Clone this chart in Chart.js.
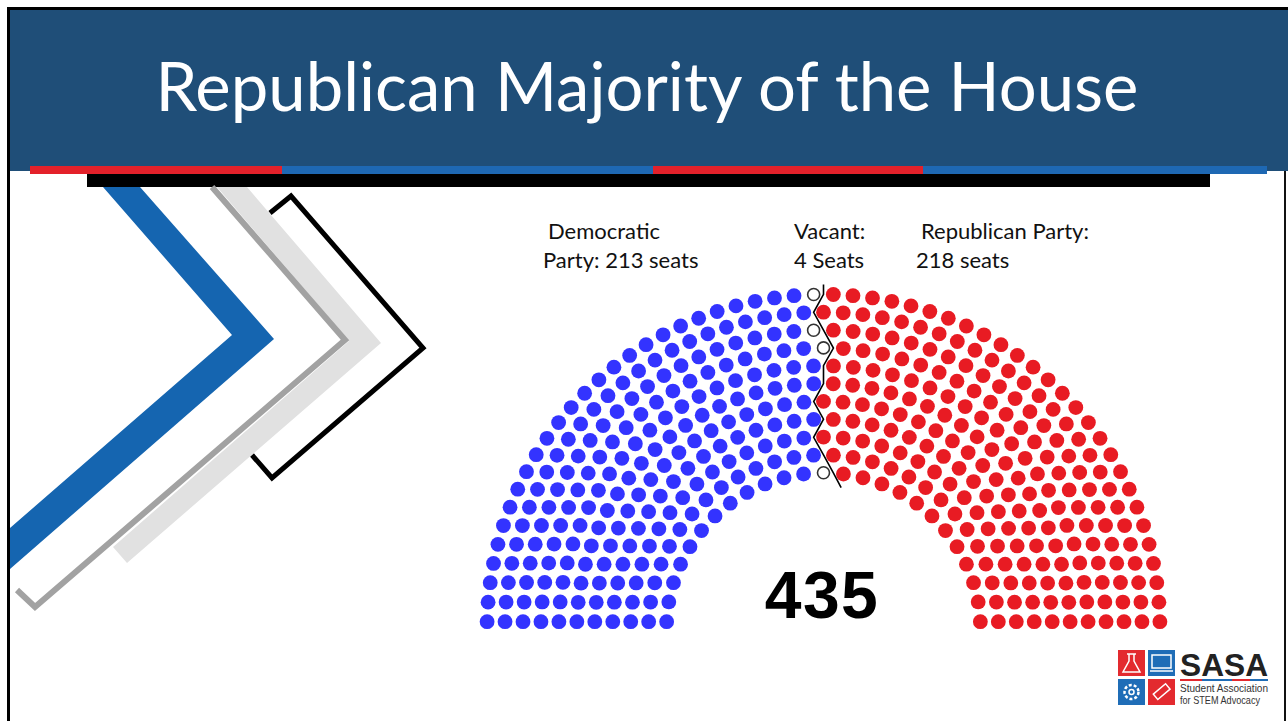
<!DOCTYPE html>
<html>
<head>
<meta charset="utf-8">
<script src="https://cdn.jsdelivr.net/npm/chart.js@4.4.1/dist/chart.umd.min.js"></script>
<style>
  body { margin: 0; width: 1288px; height: 721px; overflow: hidden; background: #fff; position: relative; font-family: Lato, "Open Sans", sans-serif; }
  .abs { position: absolute; }
  .lbl { position: absolute; font-size: 22px; line-height: 22px; color: #111; white-space: nowrap; }
  #title { position: absolute; left: 10px; width: 1274px; top: 52px; text-align: center; color: #fff; font-size: 67px; line-height: 67px; white-space: nowrap; }
  #total { position: absolute; left: 722px; width: 200px; top: 562px; text-align: center; font-family: "Liberation Sans", Arial, sans-serif; font-weight: bold; font-size: 66px; line-height: 66px; letter-spacing: 1.5px; color: #000; }
  #chartBox { position: absolute; left: 440px; top: 260px; width: 800px; height: 400px; }
</style>
</head>
<body>
<!-- slide frame and banner -->
<div class="abs" style="left:7px;top:7px;width:1281px;height:3px;background:#000"></div>
<div class="abs" style="left:7px;top:7px;width:3px;height:714px;background:#000"></div>
<div class="abs" style="left:1284px;top:170px;width:2px;height:551px;background:#111"></div>
<div class="abs" style="left:10px;top:10px;width:1278px;height:161px;background:#1f4e78"></div>
<div class="abs" style="left:30px;top:166px;width:252px;height:8px;background:#e3212a"></div>
<div class="abs" style="left:282px;top:166px;width:371px;height:8px;background:#1e68b3"></div>
<div class="abs" style="left:653px;top:166px;width:270px;height:8px;background:#e3212a"></div>
<div class="abs" style="left:923px;top:166px;width:344px;height:8px;background:#1e68b3"></div>
<div class="abs" style="left:87px;top:174px;width:1123px;height:13px;background:#000"></div>
<div id="title">Republican Majority of the House</div>

<!-- chevrons and logo -->
<svg class="abs" style="left:0;top:0" width="1288" height="721">
  <polyline points="270,213 291,196 423,348 272,478 252,455" fill="none" stroke="#000" stroke-width="5"/>
  <polygon points="217,187 247,187 381,343 127,563 113,547 349,341" fill="#e1e1e1"/>
  <polyline points="212,187 345,340 35,607 17,590" fill="none" stroke="#a2a2a2" stroke-width="6"/>
  <polygon points="103,187 140,187 274,339 10,569 10,528 232,335" fill="#1565b0"/>

  <rect x="1118" y="650" width="27" height="26" fill="#e32a2f"/>
  <rect x="1148" y="650" width="27" height="26" fill="#1f6db7"/>
  <rect x="1118" y="679" width="27" height="26" fill="#1f6db7"/>
  <rect x="1148" y="679" width="27" height="26" fill="#e32a2f"/>
  <path d="M1127,654 h9 M1129,654 v7 l-6,11 h17 l-6,-11 v-7" fill="none" stroke="#fff" stroke-width="1.5"/>
  <rect x="1152" y="655" width="19" height="13" fill="none" stroke="#fff" stroke-width="1.5"/>
  <path d="M1150,671 h23" stroke="#fff" stroke-width="1.5"/>
  <circle cx="1131.5" cy="692" r="7" fill="none" stroke="#fff" stroke-width="2.5" stroke-dasharray="3 2"/>
  <circle cx="1131.5" cy="692" r="2.5" fill="none" stroke="#fff" stroke-width="1.5"/>
  <rect x="1154" y="688" width="16" height="7" fill="none" stroke="#fff" stroke-width="1.5" transform="rotate(-40 1162 692)"/>
  <text x="1180" y="676" font-family="Liberation Sans, Arial" font-weight="bold" font-size="32" fill="#222" textLength="88" lengthAdjust="spacingAndGlyphs">SASA</text>
  <rect x="1180" y="679" width="22" height="2" fill="#e32a2f"/>
  <rect x="1202" y="679" width="30" height="2" fill="#1f6db7"/>
  <rect x="1232" y="679" width="18" height="2" fill="#e32a2f"/>
  <rect x="1250" y="679" width="18" height="2" fill="#1f6db7"/>
  <text x="1180" y="692" font-family="Liberation Sans, Arial" font-size="10.5" fill="#333" textLength="88" lengthAdjust="spacingAndGlyphs">Student Association</text>
  <text x="1180" y="704" font-family="Liberation Sans, Arial" font-size="10.5" fill="#333" textLength="80" lengthAdjust="spacingAndGlyphs">for STEM Advocacy</text>
</svg>

<div class="lbl" style="left:548px;top:220px">Democratic</div>
<div class="lbl" id="demSeats" style="left:543px;top:249px"></div>
<div class="lbl" style="left:794px;top:220px">Vacant:</div>
<div class="lbl" id="vacSeats" style="left:794px;top:249px"></div>
<div class="lbl" style="left:921px;top:220px">Republican Party:</div>
<div class="lbl" id="repSeats" style="left:916px;top:249px"></div>
<div id="total"></div>

<div id="chartBox"><canvas id="myChart" width="800" height="400"></canvas></div>

<script>
// seats per group, left to right
var partyNames = ["Democratic", "Vacant", "Republican"];
var partySeats = [213, 4, 218];
var partyColors = ["#3333ff", "#ffffff", "#e81b23"];
var partyBorders = ["#3333ff", "#333333", "#e81b23"];

// cumulative row capacities used by the parliament diagram arrangement
var rowTotals = [3, 15, 33, 61, 95, 138, 189, 247, 313, 388, 469, 559, 657, 762, 876, 997];

var totalSeats = partySeats.reduce(function (a, b) { return a + b; }, 0);

document.getElementById("demSeats").textContent = "Party: " + partySeats[0] + " seats";
document.getElementById("vacSeats").textContent = partySeats[1] + " Seats";
document.getElementById("repSeats").textContent = partySeats[2] + " seats";
document.getElementById("total").textContent = totalSeats;

// arrange seats in concentric rows, then hand them out by angle
var rows = 0;
for (var i = 0; i < rowTotals.length; i++) {
  if (rowTotals[i] >= totalSeats) { rows = i + 1; break; }
}
var dotR = 0.4 / rows;
var seats = [];
function addRow(R, J, row) {
  for (var j = 0; j < J; j++) {
    var a = j * (Math.PI - 2 * Math.sin(dotR / R)) / (J - 1) + Math.sin(dotR / R);
    seats.push({ angle: a, x: R * Math.cos(a), y: R * Math.sin(a), row: row, R: R });
  }
}
for (var i = 1; i < rows; i++) {
  var R = (3 * rows + 4 * i - 2) / (4 * rows);
  var J = Math.floor(totalSeats / rowTotals[rows - 1] * Math.PI / (2 * Math.asin(2 / (3 * rows + 4 * i - 2))));
  addRow(R, J, i);
}
addRow((7 * rows - 2) / (4 * rows), totalSeats - seats.length, rows);
seats.sort(function (a, b) { return (b.angle - a.angle) || (b.x - a.x) || (b.y - a.y); });

var k = 0;
var groups = partySeats.map(function (n, p) {
  var pts = [];
  for (var s = 0; s < n; s++) { seats[k].party = p; pts.push({ x: seats[k].x, y: seats[k].y }); k++; }
  return pts;
});

// dividing line between the republican seats and the rest, outer row to inner row
var divider = [];
for (var r = rows; r >= 1; r--) {
  var rowSeats = seats.filter(function (s) { return s.row === r; });
  var lastLeft = null, firstRight = null;
  rowSeats.forEach(function (s) {
    if (s.party < 2) { if (!lastLeft || s.angle < lastLeft.angle) lastLeft = s; }
    else { if (!firstRight || s.angle > firstRight.angle) firstRight = s; }
  });
  var a = (lastLeft.angle + firstRight.angle) / 2;
  var R = rowSeats[0].R;
  if (r === rows) divider.push({ x: (R + 0.05) * Math.cos(a), y: (R + 0.05) * Math.sin(a) });
  divider.push({ x: R * Math.cos(a), y: R * Math.sin(a) });
  if (r === 1) divider.push({ x: (R - 0.07) * Math.cos(a - 0.06), y: (R - 0.07) * Math.sin(a - 0.06) });
}

// pixel mapping of the hemicycle inside the canvas
var pxX = 197.4, pxY = 196.2, cx = 383.5, cy = 368.8, W = 800, H = 400;

var datasets = groups.map(function (pts, p) {
  return {
    label: partyNames[p],
    data: pts,
    pointRadius: p === 1 ? 6 : 7.4,
    pointBackgroundColor: partyColors[p],
    pointBorderColor: partyBorders[p],
    pointBorderWidth: p === 1 ? 1.6 : 0,
    showLine: false,
    order: 1
  };
});
datasets.push({
  type: "line",
  label: "divider",
  data: divider,
  borderColor: "#000",
  borderWidth: 1.6,
  pointRadius: 0,
  tension: 0,
  order: 0
});

new Chart("myChart", {
  type: "scatter",
  data: { datasets: datasets },
  options: {
    responsive: false,
    animation: false,
    layout: { padding: 0, autoPadding: false },
    plugins: { legend: { display: false }, tooltip: { enabled: false } },
    scales: {
      x: { type: "linear", display: false, min: -cx / pxX, max: (W - cx) / pxX },
      y: { type: "linear", display: false, min: -(H - cy) / pxY, max: cy / pxY }
    }
  }
});
</script>
</body>
</html>
